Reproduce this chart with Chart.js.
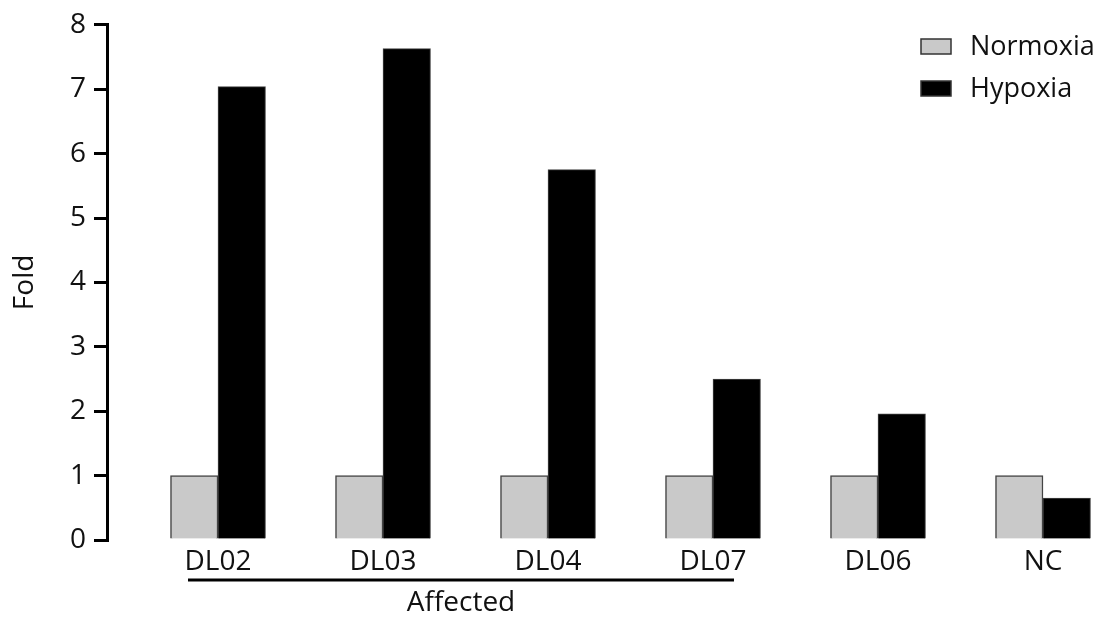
<!DOCTYPE html>
<html>
<head>
<meta charset="utf-8">
<script src="https://cdn.jsdelivr.net/npm/chart.js@4"></script>
<style>
  body { margin: 0; background: #fff; }
  #wrap { width: 1105px; height: 618px; }
</style>
</head>
<body>
<div id="wrap"><canvas id="myChart"></canvas></div>
<script>
// Chart data.
const categories = ["DL02", "DL03", "DL04", "DL07", "DL06", "NC"];
const normoxia = [1, 1, 1, 1, 1, 1];
const hypoxia = [7.04, 7.63, 5.75, 2.5, 1.96, 0.65];
const yTicks = [0, 1, 2, 3, 4, 5, 6, 7, 8];
const affectedGroup = [0, 3]; // first and last index under the "Affected" line

Chart.defaults.font.family = "'Open Sans', sans-serif";
Chart.defaults.font.size = 28;
Chart.defaults.color = "#111";

// Legend drawn by hand, top right, boxes stacked.
const legendBoxes = {
  id: "legendBoxes",
  afterDraw(chart) {
    const ctx = chart.ctx;
    ctx.save();
    chart.data.datasets.forEach((ds, i) => {
      const y = 39 + i * 42;
      ctx.fillStyle = ds.backgroundColor;
      ctx.fillRect(921, y, 30, 15);
      ctx.strokeStyle = "#333";
      ctx.lineWidth = 1.5;
      ctx.strokeRect(921, y, 30, 15);
      ctx.fillStyle = "#111";
      ctx.textBaseline = "middle";
      ctx.font = "27px 'Open Sans', sans-serif";
      ctx.fillText(ds.label, 970, y + 8);
    });
    ctx.restore();
  },
};

// Line and text under the affected samples.
const affectedLine = {
  id: "affectedLine",
  afterDraw(chart) {
    const ctx = chart.ctx;
    const x = chart.scales.x;
    const x1 = x.getPixelForValue(affectedGroup[0]) - 30;
    const x2 = x.getPixelForValue(affectedGroup[1]) + 21;
    ctx.save();
    ctx.strokeStyle = "#000";
    ctx.lineWidth = 3;
    ctx.beginPath();
    ctx.moveTo(x1, 580);
    ctx.lineTo(x2, 580);
    ctx.stroke();
    ctx.fillStyle = "#111";
    ctx.textAlign = "center";
    ctx.textBaseline = "middle";
    ctx.font = "28px 'Open Sans', sans-serif";
    ctx.fillText("Affected", (x1 + x2) / 2, 603);
    ctx.restore();
  },
};

const config = {
  type: "bar",
  data: {
    datasets: [
      {
        label: "Normoxia",
        data: normoxia.map((v, i) => ({ x: i, y: v })),
        backgroundColor: "#c9c9c9",
        borderColor: "#444",
        borderWidth: 1.5,
      },
      {
        label: "Hypoxia",
        data: hypoxia.map((v, i) => ({ x: i, y: v })),
        backgroundColor: "#000",
        borderColor: "#444",
        borderWidth: 1,
      },
    ],
  },
  options: {
    responsive: true,
    maintainAspectRatio: false,
    animation: false,
    barThickness: 47.5,
    layout: { padding: { top: 21, right: 5, left: 0, bottom: 0 } },
    plugins: {
      legend: { display: false },
      tooltip: { enabled: false },
    },
    scales: {
      x: {
        type: "linear",
        offset: false,
        min: -0.6727,
        max: 5.3455,
        grid: { display: false, drawTicks: false },
        border: { display: false },
        afterBuildTicks: (scale) => {
          scale.ticks = categories.map((c, i) => ({ value: i }));
        },
        afterFit: (scale) => {
          scale.height = 78;
        },
        ticks: {
          padding: 5,
          autoSkip: false,
          maxRotation: 0,
          color: "#111",
          callback: (v) => categories[v],
        },
      },
      y: {
        min: 0,
        max: 8,
        afterBuildTicks: (scale) => {
          scale.ticks = yTicks.map((v) => ({ value: v }));
        },
        afterFit: (scale) => {
          scale.width = 107;
        },
        grid: {
          drawOnChartArea: false,
          color: "#000",
          lineWidth: 3,
          tickLength: 13,
        },
        border: { color: "#000", width: 3 },
        ticks: { padding: 8, color: "#111" },
        title: {
          display: true,
          text: "Fold",
          color: "#111",
          padding: { top: 8, bottom: 0 },
        },
      },
    },
  },
  plugins: [legendBoxes, affectedLine],
};

let myChart = new Chart(document.getElementById("myChart"), config);
</script>
</body>
</html>
